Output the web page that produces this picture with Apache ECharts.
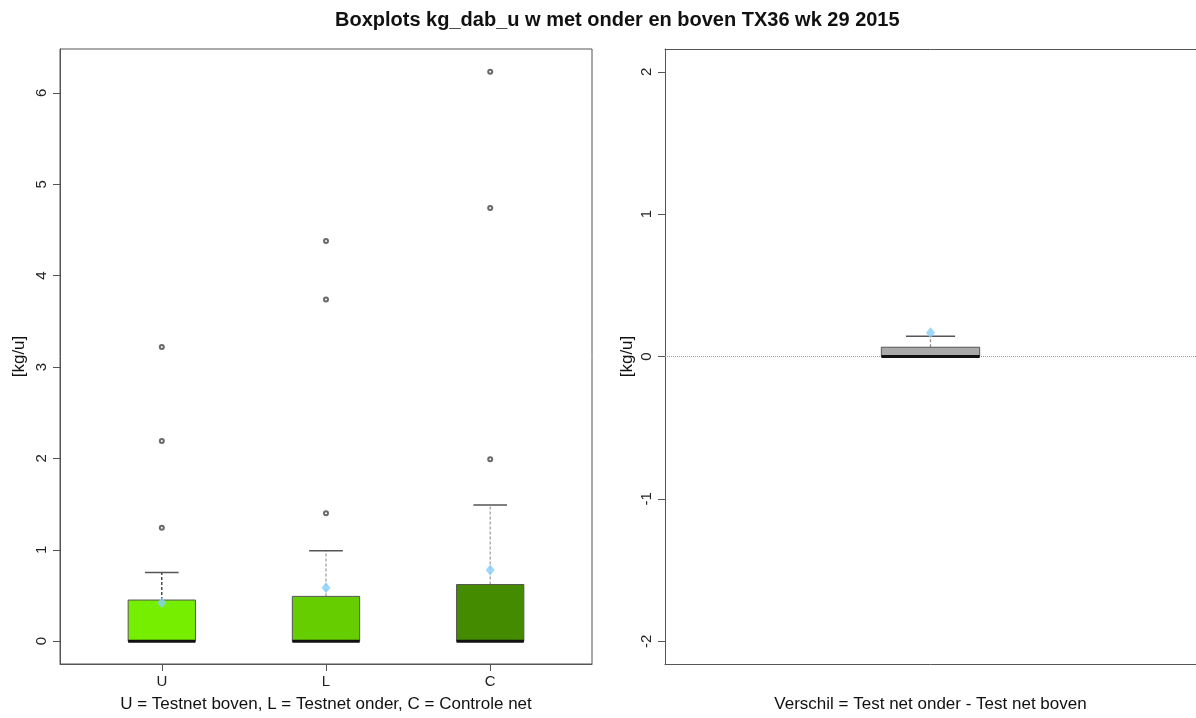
<!DOCTYPE html>
<html>
<head>
<meta charset="utf-8">
<script src="https://cdn.jsdelivr.net/npm/echarts@6/dist/echarts.min.js"></script>
<style>
html,body{margin:0;padding:0;background:#fff;}
#chart{width:1196px;height:718px;}
</style>
</head>
<body>
<div id="chart"></div>
<script>
// ---- data ----
const categories = ['U', 'L', 'C'];
const whiskerLow = [0, 0, 0];
const q1 = [0, 0, 0];
const median = [0, 0, 0];
const q3 = [0.45, 0.49, 0.62];
const whiskerHigh = [0.75, 0.99, 1.49];
const means = [0.42, 0.585, 0.78];
const outliersU = [1.24, 2.19, 3.22];
const outliersL = [1.40, 3.74, 4.38];
const outliersC = [1.99, 4.74, 6.23];
const leftTicks = [0, 1, 2, 3, 4, 5, 6];

const diffWhiskerLow = [0];
const diffQ1 = [0];
const diffMedian = [0];
const diffQ3 = [0.065];
const diffWhiskerHigh = [0.143];
const diffMean = [0.166];
const rightTicks = [-2, -1, 0, 1, 2];

// ---- styles ----
const boxColors = ['#76EE00', '#66CD00', '#458B00'];
const whiskerColors = ['#222222', '#999999', '#999999'];
const diffColor = '#A9A9A9';
const diffWhiskerColor = '#888888';
const meanColor = '#87CEFA';
const font = 'Liberation Sans, Arial, sans-serif';

const outlierSets = [outliersU, outliersL, outliersC];
const boxData = categories.map((c, i) => [i + 1, whiskerLow[i], q1[i], median[i], q3[i], whiskerHigh[i]]);
const outlierData = [];
outlierSets.forEach((arr, i) => arr.forEach(v => outlierData.push([i + 1, v])));
const meanData = means.map((m, i) => [i + 1, m]);

const diffBoxData = [[1, diffWhiskerLow[0], diffQ1[0], diffMedian[0], diffQ3[0], diffWhiskerHigh[0]]];
const diffMeanData = [[1, diffMean[0]]];

function makeRender(boxW, fills, whisk) {
  return function (params, api) {
    const x = api.value(0);
    const lo = api.value(1), a = api.value(2), md = api.value(3), b = api.value(4), hi = api.value(5);
    const w = api.size([boxW, 0])[0];
    const pA = api.coord([x, a]), pB = api.coord([x, b]), pM = api.coord([x, md]);
    const pHi = api.coord([x, hi]), pLo = api.coord([x, lo]);
    const cx = pA[0];
    const wc = whisk[params.dataIndex];
    return {
      type: 'group',
      children: [
        { type: 'line', shape: { x1: cx, y1: pB[1], x2: cx, y2: pHi[1] },
          style: { stroke: wc, lineWidth: 1.2, lineDash: [3, 2] } },
        { type: 'line', shape: { x1: cx - w / 4, y1: pHi[1], x2: cx + w / 4, y2: pHi[1] },
          style: { stroke: '#555', lineWidth: 1.5 } },
        { type: 'line', shape: { x1: cx, y1: pA[1], x2: cx, y2: pLo[1] },
          style: { stroke: wc, lineWidth: 1.2, lineDash: [3, 2] } },
        { type: 'rect', shape: { x: cx - w / 2, y: pB[1], width: w, height: pA[1] - pB[1] },
          style: { fill: fills[params.dataIndex], stroke: '#555', lineWidth: 1 } },
        { type: 'line', shape: { x1: cx - w / 2, y1: pM[1], x2: cx + w / 2, y2: pM[1] },
          style: { stroke: '#111', lineWidth: 3 } }
      ]
    };
  };
}

const axisColor = '#555';
const labelStyle = { color: '#222', fontSize: 15, fontFamily: font };
const nameStyle = { fontSize: 17, color: '#111', fontFamily: font };

const chart = echarts.init(document.getElementById('chart'), null, { renderer: 'canvas' });
chart.setOption({
  animation: false,
  backgroundColor: '#fff',
  title: {
    text: 'Boxplots kg_dab_u w met onder en boven TX36 wk 29 2015',
    left: 330, top: 5,
    textStyle: { fontSize: 20, fontWeight: 'bold', color: '#111', fontFamily: font }
  },
  grid: [
    { left: 60, top: 49, width: 532, height: 618, show: true, borderColor: axisColor, borderWidth: 1, backgroundColor: 'transparent' },
    { left: 665, top: 49, width: 534, height: 618, show: false }
  ],
  xAxis: [
    { gridIndex: 0, type: 'value', min: 0.38, max: 3.62,
      splitLine: { show: false },
      axisLine: { show: true, onZero: false, lineStyle: { color: axisColor } },
      axisTick: { show: true, length: 7, customValues: [1, 2, 3], lineStyle: { color: axisColor } },
      axisLabel: Object.assign({ customValues: [1, 2, 3], margin: 10, formatter: v => categories[Math.round(v) - 1] }, labelStyle),
      name: 'U = Testnet boven, L = Testnet onder, C = Controle net',
      nameLocation: 'middle', nameGap: 32, nameTextStyle: nameStyle },
    { gridIndex: 1, type: 'value', min: 0.46, max: 1.54,
      splitLine: { show: false },
      axisLine: { show: true, onZero: false, lineStyle: { color: axisColor } },
      axisTick: { show: false },
      axisLabel: { show: false },
      name: 'Verschil = Test net onder - Test net boven',
      nameLocation: 'middle', nameGap: 32, nameTextStyle: nameStyle },
    { gridIndex: 1, type: 'value', position: 'top', min: 0.46, max: 1.54,
      splitLine: { show: false },
      axisLine: { show: true, onZero: false, lineStyle: { color: axisColor } },
      axisTick: { show: false },
      axisLabel: { show: false } }
  ],
  yAxis: [
    { gridIndex: 0, type: 'value', min: -0.25, max: 6.48,
      splitLine: { show: false },
      axisLine: { show: true, onZero: false, lineStyle: { color: axisColor } },
      axisTick: { show: true, length: 7, customValues: leftTicks, lineStyle: { color: axisColor } },
      axisLabel: Object.assign({ customValues: leftTicks, rotate: 90, margin: 11 }, labelStyle),
      name: '[kg/u]', nameLocation: 'middle', nameGap: 32, nameRotate: 90, nameTextStyle: nameStyle },
    { gridIndex: 1, type: 'value', min: -2.16, max: 2.16,
      splitLine: { show: false },
      axisLine: { show: true, onZero: false, lineStyle: { color: axisColor } },
      axisTick: { show: true, length: 7, customValues: rightTicks, lineStyle: { color: axisColor } },
      axisLabel: Object.assign({ customValues: rightTicks, rotate: 90, margin: 11 }, labelStyle),
      name: '[kg/u]', nameLocation: 'middle', nameGap: 29, nameRotate: 90, nameTextStyle: nameStyle }
  ],
  series: [
    { type: 'custom', xAxisIndex: 0, yAxisIndex: 0, z: 2,
      renderItem: makeRender(0.41, boxColors, whiskerColors),
      encode: { x: 0, y: [1, 2, 3, 4, 5] },
      data: boxData },
    { type: 'scatter', xAxisIndex: 0, yAxisIndex: 0, z: 3,
      symbol: 'emptyCircle', symbolSize: 4,
      itemStyle: { color: '#444', borderColor: '#444', borderWidth: 0.8 },
      data: outlierData },
    { type: 'scatter', xAxisIndex: 0, yAxisIndex: 0, z: 4,
      symbol: 'diamond', symbolSize: [9, 11],
      itemStyle: { color: meanColor },
      data: meanData },
    { type: 'custom', xAxisIndex: 1, yAxisIndex: 1, z: 2,
      renderItem: makeRender(0.2, [diffColor], [diffWhiskerColor]),
      encode: { x: 0, y: [1, 2, 3, 4, 5] },
      data: diffBoxData,
      markLine: { silent: true, symbol: 'none', z: 1, label: { show: false },
        lineStyle: { color: '#999', type: 'dotted', width: 1 },
        data: [{ yAxis: 0 }] } },
    { type: 'scatter', xAxisIndex: 1, yAxisIndex: 1, z: 4,
      symbol: 'diamond', symbolSize: [9, 11],
      itemStyle: { color: meanColor },
      data: diffMeanData }
  ]
});
</script>
</body>
</html>
